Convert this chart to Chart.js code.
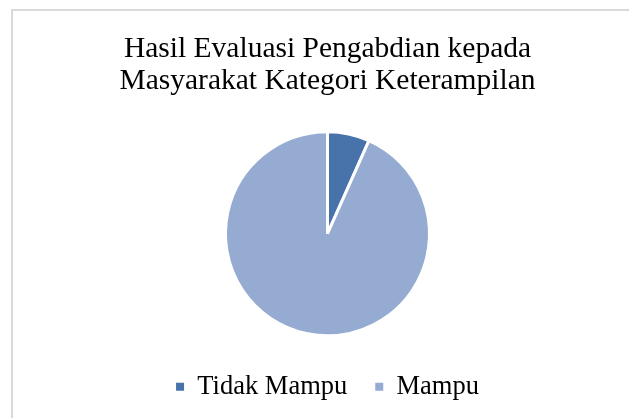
<!DOCTYPE html>
<html>
<head>
<meta charset="utf-8">
<script src="https://cdn.jsdelivr.net/npm/chart.js@4.4.0/dist/chart.umd.min.js"></script>
<style>
  body { margin: 0; background: #fff; overflow: hidden; }
  #frame { position: absolute; left: 11px; top: 9px; width: 640px; height: 430px; border-top: 2px solid #d9d9d9; border-left: 2px solid #d9d9d9; }
  #wrap { position: absolute; left: 13px; top: 0; width: 629px; height: 418px; }
</style>
</head>
<body>
<div id="frame"></div>
<div id="wrap"><canvas id="myPie"></canvas></div>
<script>
var categories = ['Tidak Mampu', 'Mampu'];
var values = [1, 14];
var colors = ['#4872aa', '#95abd1'];
var titleLines = ['Hasil Evaluasi Pengabdian kepada', 'Masyarakat Kategori Keterampilan'];

var ctx = document.getElementById('myPie');
var pie = new Chart(ctx, {
	type: 'pie',
	data: {
		labels: categories,
		datasets: [{
			data: values,
			backgroundColor: colors,
			borderColor: '#ffffff',
			borderWidth: 3,
			radius: 102
		}]
	},
	options: {
		responsive: true,
		maintainAspectRatio: false,
		animation: false,
		events: [],
		layout: { padding: { top: 0, bottom: 8 } },
		plugins: {
			title: {
				display: true,
				text: titleLines,
				color: '#000',
				font: { family: 'Liberation Serif', size: 29.5, weight: 'normal', lineHeight: 1.1 },
				padding: { top: 33, bottom: 24 }
			},
			legend: {
				position: 'bottom',
				labels: {
					color: '#000',
					font: { family: 'Liberation Serif', size: 26.5 },
					boxWidth: 8,
					boxHeight: 8,
					padding: 28,
					generateLabels: function(chart){
						var items = Chart.PieController.overrides.plugins.legend.labels.generateLabels(chart);
						items.forEach(function(it){ it.lineWidth = 0; it.strokeStyle = it.fillStyle; });
						return items;
					}
				}
			},
			tooltip: { enabled: false }
		}
	}
});
</script>
</body>
</html>
